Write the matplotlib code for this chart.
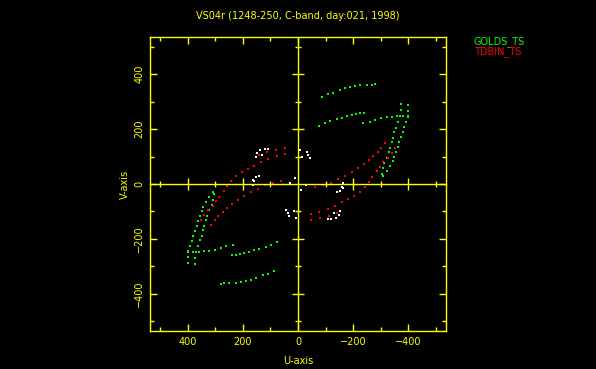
import matplotlib
matplotlib.use("Agg")
import matplotlib.pyplot as plt
import numpy as np

# uv points (one half; the conjugate half is -u, -v)
# GOLDS_TS baselines
golds_top_u = [-86, -110, -128, -153, -171, -189, -207, -225, -250, -268, -280]
golds_top_v = [317, 327, 333, 342, 348, 354, 356, 360, 361, 361, 363]
golds_mid1_u = [-76, -98, -116, -141, -159, -177, -195, -211, -225, -240]
golds_mid1_v = [211, 221, 229, 235, 242, 247, 251, 255, 257, 257]
golds_mid2_u = [-238, -262, -280, -301, -322, -341, -359, -383, -401]
golds_mid2_v = [221, 227, 233, 239, 243, 245, 247, 248, 247]
golds_in_u = [-373, -373, -371, -365, -356, -349, -344, -341, -335, -329, -322, -314, -308, -304]
golds_in_v = [290, 269, 248, 227, 205, 188, 168, 152, 132, 115, 96, 75, 57, 35]
golds_out_u = [-401, -401, -399, -393, -385, -381, -373, -368, -362, -356, -350, -344, -335, -322, -310]
golds_out_v = [287, 265, 245, 227, 208, 190, 172, 154, 136, 118, 99, 84, 67, 47, 30]

# TDBIN_TS baselines
tdbin_up_u = [-316, -302, -290, -274, -258, -240, -219, -198, -171, -147, -120, -92, -62]
tdbin_up_v = [148, 132, 118, 103, 87, 73, 59, 45, 30, 18, 5, -4, -12]
tdbin_low_u = [-353, -341, -326, -310, -298, -286, -270, -258, -244, -225, -205, -183, -159,
               -135, -108, -76, -47]
tdbin_low_v = [130, 112, 96, 81, 63, 47, 27, 8, -10, -28, -44, -55, -67, -80, -92, -103, -110]
tdbin_end_u = [-47, -80, -112, -140]
tdbin_end_v = [-132, -125, -117, -106]

# short white baselines
white_u = [138, 120, 109, 150, 132, 153, -7, -32, -37, -44, -13, 29, 11, 163, 153, -141, -159, -165]
white_v = [124, 127, 127, 112, 105, 99, 124, 117, 105, 93, 99, 5, 21, 15, 27, -28, -10, 3]

yellow = '#ffff00'

fig = plt.figure(figsize=(5.96, 3.69), dpi=100, facecolor='black')
pos = [150 / 596, 38 / 369, 296 / 596, 294 / 369]
ax = fig.add_axes(pos, facecolor='black')


def uvplot(u, v, color):
    u = np.array(u)
    v = np.array(v)
    ax.plot(u, v, 's', color=color, ms=2, mew=0)
    ax.plot(-u, -v, 's', color=color, ms=2, mew=0)


for u, v in [(golds_top_u, golds_top_v), (golds_mid1_u, golds_mid1_v),
             (golds_mid2_u, golds_mid2_v), (golds_in_u, golds_in_v),
             (golds_out_u, golds_out_v)]:
    uvplot(u, v, '#00ff00')
for u, v in [(tdbin_up_u, tdbin_up_v), (tdbin_low_u, tdbin_low_v),
             (tdbin_end_u, tdbin_end_v)]:
    uvplot(u, v, '#ff0000')
uvplot(white_u, white_v, 'white')

ax.set_xlim(538, -538)
ax.set_ylim(-535, 535)
ax.set_xticks([400, 200, 0, -200, -400])
ax.set_yticks([-400, -200, 0, 200, 400])
ax.set_xticks(np.arange(-500, 501, 100), minor=True)
ax.set_yticks(np.arange(-500, 501, 100), minor=True)
for s in ax.spines.values():
    s.set_color(yellow)
    s.set_linewidth(1)
ax.tick_params(which='both', direction='in', top=True, right=True, colors=yellow,
               labelsize=7, width=1)
ax.tick_params(which='major', length=5)
ax.tick_params(which='minor', length=3)
ax.tick_params(axis='x', pad=4)
ax.tick_params(axis='y', pad=4, labelrotation=90)
for lab in ax.get_yticklabels():
    lab.set_va('center')
ax.set_xlabel('U-axis', color=yellow, fontsize=7, labelpad=7)
ax.set_ylabel('V-axis', color=yellow, fontsize=7, labelpad=3)
ax.set_title('VS04r (1248-250, C-band, day:021, 1998)', color=yellow, fontsize=7, pad=13)

# zero axes with crossing ticks
ax0 = fig.add_axes(pos, facecolor='none')
ax0.set_xlim(538, -538)
ax0.set_ylim(-535, 535)
ax0.spines['left'].set_position(('data', 0))
ax0.spines['bottom'].set_position(('data', 0))
ax0.spines['top'].set_visible(False)
ax0.spines['right'].set_visible(False)
for s in ['left', 'bottom']:
    ax0.spines[s].set_color(yellow)
    ax0.spines[s].set_linewidth(1)
ax0.set_xticks([400, 200, -200, -400])
ax0.set_yticks([-400, -200, 200, 400])
ax0.set_xticks([500, 300, 100, -100, -300, -500], minor=True)
ax0.set_yticks([500, 300, 100, -100, -300, -500], minor=True)
ax0.tick_params(which='both', direction='inout', colors=yellow, width=1,
                labelbottom=False, labelleft=False)
ax0.tick_params(which='major', length=8)
ax0.tick_params(which='minor', length=4)

fig.text(474 / 596, 1 - 42 / 369, 'GOLDS_TS', color='#00ff00', fontsize=7, va='center')
fig.text(474 / 596, 1 - 52 / 369, 'TDBIN_TS', color='#ff0000', fontsize=7, va='center')

fig.savefig('out.png', dpi=100, facecolor='black')
